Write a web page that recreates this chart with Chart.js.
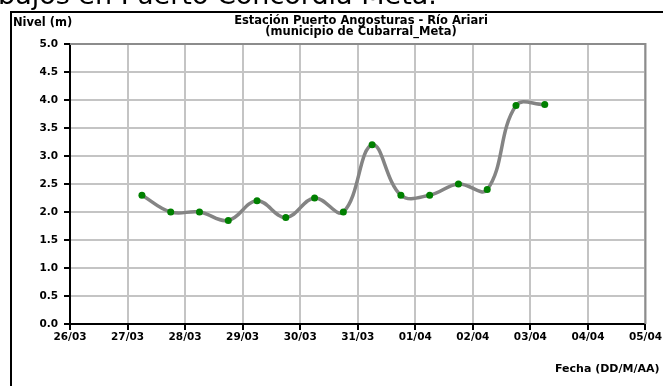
<!DOCTYPE html>
<html>
<head>
<meta charset="utf-8">
<script src="https://cdn.jsdelivr.net/npm/chart.js@4/dist/chart.umd.min.js"></script>
<style>
  body { margin: 0; background: #fff; }
  canvas { display: block; }
</style>
</head>
<body>
<canvas id="theGraph" width="663" height="386"></canvas>
<script>
// tick labels for the x axis (one per day, from 26/03)
var etiquetasX = ['26/03', '27/03', '28/03', '29/03', '30/03', '31/03', '01/04', '02/04', '03/04', '04/04', '05/04'];

// readings: day + hour + level (m)
var fechas = ['27/03', '27/03', '28/03', '28/03', '29/03', '29/03', '30/03', '30/03', '31/03', '31/03', '01/04', '01/04', '02/04', '02/04', '03/04'];
var horas = [6, 18, 6, 18, 6, 18, 6, 18, 6, 18, 6, 18, 6, 18, 6];
var niveles = [2.3, 2.0, 2.0, 1.85, 2.2, 1.9, 2.25, 2.0, 3.2, 2.3, 2.3, 2.5, 2.4, 3.9, 3.92];

var etiquetasY = ['0.0', '0.5', '1.0', '1.5', '2.0', '2.5', '3.0', '3.5', '4.0', '4.5', '5.0'];

// wide bold sans, the excel export looks stretched
var FONT = '"DejaVu Sans", sans-serif';

function drawChart() {
  var puntos = [];
  for (var i = 0; i < niveles.length; i++) {
    var dia = etiquetasX.indexOf(fechas[i]);
    puntos.push({ x: dia + horas[i] / 24, y: niveles[i] });
  }

  // frame, titles and the extra texts around the plot
  var extras = {
    id: 'extras',
    beforeDraw: function(chart) {
      var c = chart.ctx;
      c.save();
      c.fillStyle = '#fff';
      c.fillRect(0, 0, chart.width, chart.height);
      c.restore();
    },
    afterDraw: function(chart) {
      var c = chart.ctx;
      var a = chart.chartArea;
      c.save();

      // cut-off text of the page above the chart
      c.fillStyle = '#000';
      c.font = '27px ' + FONT;
      c.textAlign = 'left';
      c.textBaseline = 'alphabetic';
      c.fillText('bajos en Puerto Concordia Meta.', -2, 4);

      // outer frame (left and top only, the rest is cropped)
      c.strokeStyle = '#000';
      c.lineWidth = 2;
      c.beginPath();
      c.moveTo(11, chart.height);
      c.lineTo(11, 12);
      c.lineTo(chart.width, 12);
      c.stroke();

      // plot border top / right
      c.strokeStyle = '#8c8c8c';
      c.lineWidth = 2;
      c.beginPath();
      c.moveTo(a.left, a.top);
      c.lineTo(a.right, a.top);
      c.lineTo(a.right, a.bottom);
      c.stroke();

      c.font = 'bold 11.5px ' + FONT;
      c.textBaseline = 'middle';
      c.textAlign = 'left';
      c.fillText('Nivel (m)', 13, 23);

      c.textAlign = 'center';
      c.fillText('Estación Puerto Angosturas - Río Ariari', 361, 21);
      c.fillText('(municipio de Cubarral_Meta)', 361, 32);

      c.font = 'bold 11px ' + FONT;
      c.textAlign = 'left';
      c.fillText('Fecha (DD/M/AA)', 555, 369);
      c.restore();
    }
  };

  var ctx = document.getElementById('theGraph').getContext('2d');

  var chart = new Chart(ctx, {
    type: 'line',
    data: {
      datasets: [{
        label: 'Nivel',
        data: puntos,
        borderColor: '#848484',
        borderWidth: 3.5,
        tension: 0.4,
        pointRadius: 3.5,
        pointBackgroundColor: '#008000',
        pointBorderColor: '#008000',
        pointBorderWidth: 0
      }]
    },
    options: {
      responsive: false,
      animation: false,
      layout: { padding: { left: 0, top: 44, right: 16, bottom: 0 } },
      plugins: {
        legend: { display: false },
        tooltip: { enabled: false }
      },
      scales: {
        x: {
          type: 'linear',
          min: 0,
          max: 10,
          afterFit: function(s) { s.height = 62; },
          afterBuildTicks: function(s) {
            s.ticks = etiquetasX.map(function(t, i) { return { value: i }; });
          },
          ticks: {
            autoSkip: false,
            maxRotation: 0,
            padding: 1,
            color: '#000',
            font: { family: FONT, size: 10.5, weight: 'bold' },
            callback: function(v) { return etiquetasX[v]; }
          },
          grid: { color: '#c4c4c4', lineWidth: 2, tickColor: '#000', tickLength: 6 },
          border: { color: '#000', width: 2 }
        },
        y: {
          min: 0,
          max: 5,
          afterFit: function(s) { s.width = 70; },
          afterBuildTicks: function(s) {
            s.ticks = etiquetasY.map(function(t) { return { value: parseFloat(t) }; });
          },
          ticks: {
            padding: 6,
            color: '#000',
            font: { family: FONT, size: 10.5, weight: 'bold' },
            callback: function(v) { return etiquetasY[Math.round(v * 2)]; }
          },
          grid: { color: '#c4c4c4', lineWidth: 2, tickColor: '#000', tickLength: 6 },
          border: { color: '#000', width: 2 }
        }
      }
    },
    plugins: [extras]
  });
}

drawChart();
</script>
</body>
</html>
